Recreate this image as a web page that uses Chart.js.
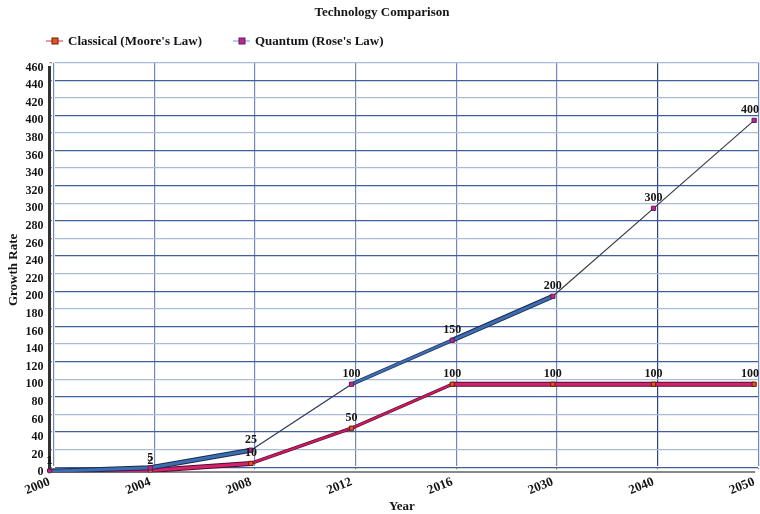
<!DOCTYPE html>
<html>
<head>
<meta charset="utf-8">
<script src="https://cdn.jsdelivr.net/npm/chart.js@4/dist/chart.umd.min.js"></script>
<style>
  html, body { margin: 0; padding: 0; background: #ffffff; }
  #wrap { width: 760px; height: 514px; position: relative; }
</style>
</head>
<body>
<div id="wrap"><canvas id="chart"></canvas></div>
<script>
// Years on the category axis and the two growth series
const years = ['2000', '2004', '2008', '2012', '2016', '2030', '2040', '2050'];
const classical = [1, 2, 10, 50, 100, 100, 100, 100];
const quantum = [1, 5, 25, 100, 150, 200, 300, 400];
const seriesNames = ["Classical (Moore's Law)", "Quantum (Rose's Law)"];
const chartTitle = 'Technology Comparison';
const xTitle = 'Year';
const yTitle = 'Growth Rate';
const yMin = 0, yMax = 460, yStep = 20;

const FONT = "'Liberation Serif', 'DejaVu Serif', serif";

// Ribbon look per segment: steep parts render as a thin edge
const qInner = ['#3b6db3', '#3b6db3', '#2d3a5c', '#3d6fb5', '#3b6db3', '#3a3d44', '#3a3d44'];
const qInnerW = [3, 3, 1.3, 2.2, 3, 1.2, 1.2];
const qOuter = ['#1d2c4a', '#1d2c4a', 'rgba(0,0,0,0)', '#24365a', '#1d2c4a', 'rgba(0,0,0,0)', 'rgba(0,0,0,0)'];
const qOuterW = [5, 5, 1, 3.6, 5, 1, 1];
const cInner = ['#d8206c', '#d8206c', '#c81a60', '#c81a60', '#d8206c', '#d8206c', '#d8206c'];
const cInnerW = [3, 3, 2.2, 2.2, 3, 3, 3];
const cOuterW = [5, 5, 3.4, 3.4, 5, 5, 5];

const CL_POINT = '#e4561e', CL_POINT_EDGE = '#6a1c04';
const QU_POINT = '#c5228e', QU_POINT_EDGE = '#55205e';

// Grid drawn on a back wall slightly offset up and to the right
const backWall = {
  id: 'backWall',
  afterLayout(chart) {
    ['x', 'y'].forEach(id => {
      const s = chart.scales[id];
      if (!s || s.__wall) return;
      const orig = s.drawGrid;
      s.drawGrid = function (area) {
        const c = this.ctx;
        c.save();
        c.translate(4, -5);
        orig.call(this, area);
        c.restore();
      };
      s.__wall = true;
    });
  }
};

// Value labels above the points of the two main series
const valueLabels = {
  id: 'valueLabels',
  afterDatasetsDraw(chart) {
    const ctx = chart.ctx;
    ctx.save();
    ctx.font = 'bold 12px ' + FONT;
    ctx.fillStyle = '#151515';
    ctx.textAlign = 'center';
    ctx.textBaseline = 'bottom';
    chart.data.datasets.forEach((ds, di) => {
      if (!ds.showValues) return;
      const meta = chart.getDatasetMeta(di);
      meta.data.forEach((pt, i) => {
        const txt = String(ds.data[i]);
        const w = ctx.measureText(txt).width;
        let x = pt.x;
        x = Math.min(x, chart.width - w / 2 - 1);
        ctx.fillText(txt, x, pt.y - 4);
      });
    });
    ctx.restore();
  }
};

// Legend row: short line with a square marker, then the series name
const legendRow = {
  id: 'legendRow',
  afterDraw(chart) {
    const ctx = chart.ctx;
    const items = [
      { x: 46, line: '#e8709a', fill: CL_POINT, edge: CL_POINT_EDGE, text: seriesNames[0] },
      { x: 233, line: '#9fbbe2', fill: QU_POINT, edge: QU_POINT_EDGE, text: seriesNames[1] }
    ];
    const y = 41;
    ctx.save();
    items.forEach(it => {
      ctx.strokeStyle = it.line;
      ctx.lineWidth = 1.5;
      ctx.beginPath();
      ctx.moveTo(it.x, y);
      ctx.lineTo(it.x + 17, y);
      ctx.stroke();
      ctx.fillStyle = it.fill;
      ctx.strokeStyle = it.edge;
      ctx.lineWidth = 1;
      ctx.fillRect(it.x + 6, y - 3, 6, 6);
      ctx.strokeRect(it.x + 6, y - 3, 6, 6);
      ctx.fillStyle = '#151515';
      ctx.font = 'bold 13px ' + FONT;
      ctx.textAlign = 'left';
      ctx.textBaseline = 'middle';
      ctx.fillText(it.text, it.x + 22, y + 1);
    });
    ctx.restore();
  }
};

new Chart(document.getElementById('chart'), {
  type: 'line',
  data: {
    labels: years,
    datasets: [
      {
        label: 'classical-edge',
        data: classical,
        order: 4,
        pointRadius: 0,
        borderColor: '#4a1030',
        borderWidth: 5,
        segment: { borderWidth: c => cOuterW[c.p0DataIndex] },
        tension: 0
      },
      {
        label: seriesNames[0],
        data: classical,
        order: 3,
        showValues: true,
        borderColor: '#d8206c',
        borderWidth: 3,
        segment: {
          borderColor: c => cInner[c.p0DataIndex],
          borderWidth: c => cInnerW[c.p0DataIndex]
        },
        pointStyle: 'rect',
        pointRadius: 3,
        pointBackgroundColor: CL_POINT,
        pointBorderColor: CL_POINT_EDGE,
        pointBorderWidth: 1,
        tension: 0
      },
      {
        label: 'quantum-edge',
        data: quantum,
        order: 2,
        pointRadius: 0,
        borderColor: '#1d2c4a',
        borderWidth: 5,
        segment: {
          borderColor: c => qOuter[c.p0DataIndex],
          borderWidth: c => qOuterW[c.p0DataIndex]
        },
        tension: 0
      },
      {
        label: seriesNames[1],
        data: quantum,
        order: 1,
        showValues: true,
        borderColor: '#3b6db3',
        borderWidth: 3,
        segment: {
          borderColor: c => qInner[c.p0DataIndex],
          borderWidth: c => qInnerW[c.p0DataIndex]
        },
        pointStyle: 'rect',
        pointRadius: 3,
        pointBackgroundColor: QU_POINT,
        pointBorderColor: QU_POINT_EDGE,
        pointBorderWidth: 1,
        tension: 0
      }
    ]
  },
  options: {
    responsive: true,
    maintainAspectRatio: false,
    animation: false,
    layout: { padding: { left: 0, right: -4, top: 0, bottom: 0 } },
    plugins: {
      legend: { display: false },
      tooltip: { enabled: false },
      title: {
        display: true,
        text: chartTitle,
        color: '#151515',
        font: { family: FONT, size: 13, weight: 'bold' },
        padding: { top: 5, bottom: 47 }
      }
    },
    scales: {
      x: {
        type: 'category',
        offset: false,
        title: {
          display: true,
          text: xTitle,
          color: '#151515',
          font: { family: FONT, size: 13, weight: 'bold' },
          padding: { top: 0, bottom: 0 }
        },
        ticks: {
          color: '#151515',
          font: { family: FONT, size: 13, weight: 'bold' },
          minRotation: 22,
          maxRotation: 22,
          padding: 0,
          autoSkip: false
        },
        grid: {
          color: c => (c.index === 6 ? '#2a4582' : '#7089bd'),
          lineWidth: 1.2,
          tickLength: 2,
          tickColor: '#8a8a8a'
        },
        border: { display: true, color: '#8a8a8a', width: 2 }
      },
      y: {
        min: yMin,
        max: yMax,
        title: {
          display: true,
          text: yTitle,
          color: '#151515',
          font: { family: FONT, size: 13, weight: 'bold' },
          padding: { top: 6, bottom: 2 }
        },
        ticks: {
          stepSize: yStep,
          color: '#151515',
          font: { family: FONT, size: 12, weight: 'bold' },
          padding: 2
        },
        grid: {
          color: c => (c.tick && c.tick.value % 40 === 0 ? '#40609c' : '#aabbd9'),
          lineWidth: 1.3,
          tickLength: 4,
          tickColor: '#8a8a8a'
        },
        border: { display: true, color: '#333333', width: 3 }
      }
    }
  },
  plugins: [backWall, valueLabels, legendRow]
});
</script>
</body>
</html>
